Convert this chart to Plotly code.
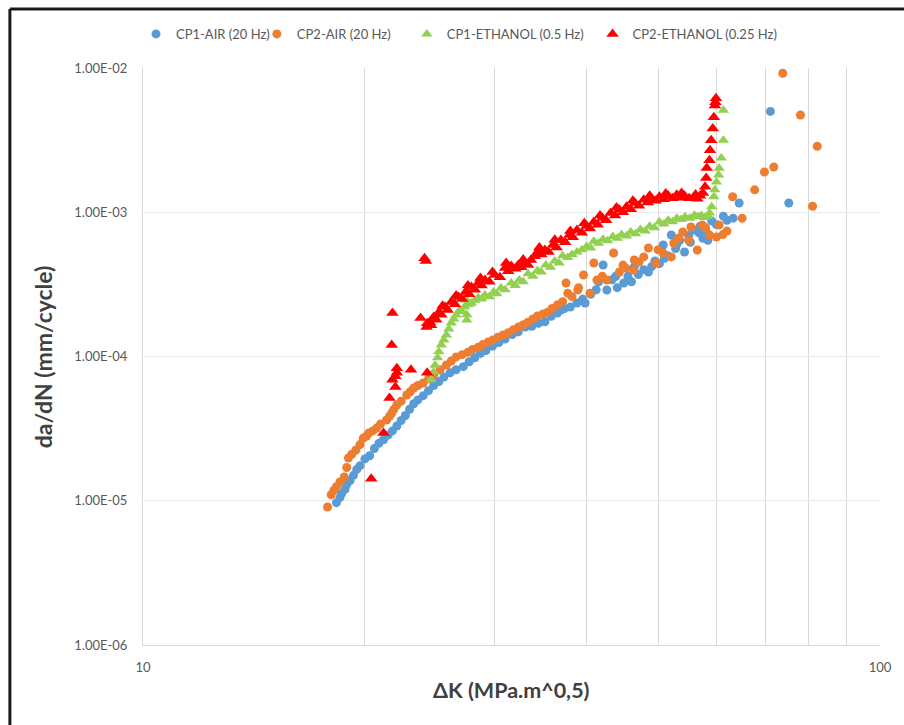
import plotly.graph_objects as go

# ---------------- data ----------------
air1_dk = [18.3, 18.5, 18.6, 18.8, 18.9, 19.1, 19.3, 19.5, 19.7, 20.0,
           20.3, 20.6, 20.9, 21.2, 21.5, 21.8, 22.1, 22.4, 22.7, 23.0,
           23.3, 23.6, 24.0, 24.4, 24.8, 25.2, 25.6, 26.1, 26.6, 27.2,
           27.7, 28.2, 28.7, 29.2, 29.8, 30.4, 31.0, 31.7, 32.3, 33.0,
           33.7, 34.4, 35.1, 35.8, 36.5, 36.9, 37.3, 38.0, 38.8, 39.5,
           39.8, 40.5, 41.2, 42.1, 42.6, 43.3, 44.0, 44.9, 45.5, 46.4,
           47.0, 47.8, 48.5, 49.5, 50.2, 50.8, 51.5, 52.1, 52.8, 53.5,
           54.3, 55.0, 55.9, 56.8, 57.5, 58.4, 59.1, 61.3, 63.2, 64.4,
           71.0, 75.2,
           41.5, 43.8, 46.0, 49.0, 51.0, 53.0, 55.3, 57.0, 58.0, 60.0, 62.0]
air1_dadn = [9.7e-6, 1.05e-5, 1.12e-5, 1.2e-5, 1.3e-5, 1.38e-5, 1.5e-5, 1.65e-5, 1.75e-5, 1.95e-5,
             2.05e-5, 2.3e-5, 2.5e-5, 2.65e-5, 2.85e-5, 3.05e-5, 3.3e-5, 3.6e-5, 3.9e-5, 4.3e-5,
             4.7e-5, 5.0e-5, 5.35e-5, 5.8e-5, 6.3e-5, 6.7e-5, 7.2e-5, 7.7e-5, 8.1e-5, 8.5e-5,
             9.2e-5, 9.8e-5, 1.05e-4, 1.1e-4, 1.18e-4, 1.25e-4, 1.32e-4, 1.42e-4, 1.48e-4, 1.6e-4,
             1.62e-4, 1.7e-4, 1.74e-4, 1.9e-4, 2.0e-4, 2.1e-4, 2.15e-4, 2.2e-4, 2.35e-4, 2.5e-4,
             2.35e-4, 2.7e-4, 2.9e-4, 4.31e-4, 2.89e-4, 3.4e-4, 3.0e-4, 3.23e-4, 3.6e-4, 4.17e-4,
             3.7e-4, 4.0e-4, 3.85e-4, 4.6e-4, 4.4e-4, 5.93e-4, 5.0e-4, 6.96e-4, 5.6e-4, 6.4e-4,
             5.3e-4, 6.9e-4, 7.53e-4, 7.2e-4, 6.6e-4, 6.4e-4, 8.7e-4, 9.4e-4, 9.1e-4, 1.16e-3,
             5.0e-3, 1.16e-3,
             3.3e-4, 3.6e-4, 3.3e-4, 4.2e-4, 4.8e-4, 6.0e-4, 6.2e-4, 8.0e-4, 7.5e-4, 8.2e-4, 8.8e-4]

air2_dk = [17.8, 18.0, 18.15, 18.3, 18.5, 18.75, 18.9, 19.0, 19.2, 19.45,
           19.7, 19.9, 20.1, 20.25, 20.5, 20.75, 21.0, 21.4, 21.6, 21.75,
           21.9, 22.1, 22.4, 22.8, 23.05, 23.3, 23.6, 24.0, 24.4, 24.8,
           25.3, 25.8, 26.2, 26.6, 27.1, 27.6, 28.0, 28.5, 28.9, 29.4,
           29.8, 30.3, 30.8, 31.3, 31.8, 32.3, 32.8, 33.3, 33.8, 34.3,
           34.9, 35.4, 35.9, 36.5, 37.1, 37.5, 37.7, 38.9, 39.6, 40.4,
           40.9, 41.3, 42.6, 43.5, 44.3, 45.2, 46.3, 46.4, 47.1, 48.5,
           49.7, 50.8, 52.1, 52.5, 54.0, 55.4, 56.5, 57.4, 58.7, 60.0,
           60.5, 62.0, 63.1, 65.0, 67.6, 69.7, 71.75, 73.8, 78.0, 81.0,
           82.2,
           38.2, 39.0, 42.0, 44.8, 47.8, 50.0, 53.3, 55.0, 58.0, 61.2]
air2_dadn = [9.05e-6, 1.1e-5, 1.18e-5, 1.25e-5, 1.35e-5, 1.46e-5, 1.7e-5, 1.98e-5, 2.1e-5, 2.25e-5,
             2.45e-5, 2.72e-5, 2.8e-5, 2.95e-5, 3.05e-5, 3.19e-5, 3.4e-5, 3.63e-5, 3.85e-5, 4.06e-5,
             4.3e-5, 4.61e-5, 4.9e-5, 5.41e-5, 5.7e-5, 6.05e-5, 6.3e-5, 6.55e-5, 7.0e-5, 7.45e-5,
             8.1e-5, 8.73e-5, 9.3e-5, 9.93e-5, 1.03e-4, 1.07e-4, 1.12e-4, 1.16e-4, 1.21e-4, 1.26e-4,
             1.3e-4, 1.36e-4, 1.41e-4, 1.46e-4, 1.53e-4, 1.6e-4, 1.66e-4, 1.73e-4, 1.82e-4, 1.91e-4,
             1.97e-4, 2.03e-4, 2.15e-4, 2.28e-4, 2.4e-4, 3.23e-4, 2.75e-4, 2.89e-4, 3.67e-4, 2.75e-4,
             4.45e-4, 3.39e-4, 3.39e-4, 5.22e-4, 3.85e-4, 4.1e-4, 3.98e-4, 4.67e-4, 4.52e-4, 5.65e-4,
             4.45e-4, 5.22e-4, 4.9e-4, 6.12e-4, 7.3e-4, 7.9e-4, 5.47e-4, 8.17e-4, 6.95e-4, 6.73e-4,
             8.17e-4, 7.4e-4, 1.28e-3, 9.1e-4, 1.43e-3, 1.9e-3, 2.06e-3, 9.2e-3, 4.72e-3, 1.1e-3,
             2.87e-3,
             2.6e-4, 3.0e-4, 3.6e-4, 4.3e-4, 4.9e-4, 5.5e-4, 6.6e-4, 6.4e-4, 7.8e-4, 7.0e-4]

eth1_dk = [24.6, 24.8, 24.9, 25.1, 25.2, 25.4, 25.6, 25.8, 26.0, 26.2,
           26.4, 26.6, 26.9, 27.1, 27.3, 27.5, 27.5, 27.5, 27.5, 27.7,
           27.9, 28.2, 28.5, 28.8, 29.1, 29.5, 29.9, 30.2, 30.6, 31.0,
           31.6, 32.0, 32.4, 32.8, 33.3, 33.8, 34.3, 34.7, 35.2, 35.7,
           36.2, 36.7, 37.1, 37.7, 38.2, 38.8, 39.4, 40.0, 40.5, 40.9,
           41.5, 42.1, 42.7, 43.4, 44.0, 44.6, 45.3, 45.9, 46.6, 47.3,
           48.0, 48.7, 49.4, 50.2, 50.9, 51.6, 52.3, 53.0, 53.7, 54.4,
           55.2, 56.0, 56.6, 57.2, 57.8, 58.5, 58.7, 59.1, 59.5, 59.7,
           60.0, 60.4, 60.5, 60.9, 61.3, 61.3]
eth1_dadn = [6.9e-5, 7.8e-5, 8.7e-5, 9.8e-5, 1.08e-4, 1.2e-4, 1.3e-4, 1.41e-4, 1.55e-4, 1.71e-4,
             1.82e-4, 1.94e-4, 2.1e-4, 2.05e-4, 2.2e-4, 2.28e-4, 1.79e-4, 1.95e-4, 2.46e-4, 2.3e-4,
             2.35e-4, 2.45e-4, 2.55e-4, 2.5e-4, 2.67e-4, 2.6e-4, 2.8e-4, 2.72e-4, 2.98e-4, 2.9e-4,
             3.23e-4, 3.1e-4, 3.39e-4, 3.3e-4, 3.75e-4, 3.6e-4, 3.95e-4, 3.85e-4, 4.3e-4, 4.15e-4,
             4.6e-4, 4.45e-4, 5.0e-4, 4.85e-4, 5.1e-4, 5.3e-4, 5.5e-4, 5.8e-4, 5.65e-4, 6.3e-4,
             6.1e-4, 6.5e-4, 6.35e-4, 6.8e-4, 6.6e-4, 7.0e-4, 6.85e-4, 7.3e-4, 7.1e-4, 7.6e-4,
             7.4e-4, 8.0e-4, 7.8e-4, 8.55e-4, 8.3e-4, 8.8e-4, 8.6e-4, 9.1e-4, 8.9e-4, 9.3e-4,
             9.1e-4, 9.55e-4, 9.3e-4, 9.5e-4, 9.2e-4, 9.4e-4, 9.9e-4, 1.09e-3, 1.28e-3, 1.43e-3,
             1.62e-3, 1.81e-3, 2.02e-3, 2.38e-3, 3.16e-3, 5.1e-3]

eth2_dk = [20.4, 21.2, 21.6, 21.8, 22.0, 22.1, 22.1, 22.0, 21.75, 21.8,
           23.1, 24.3, 23.8, 24.1, 24.2,
           24.25, 24.3, 24.5, 24.6, 24.8, 25.0, 25.2, 25.4, 25.7, 25.9,
           26.2, 26.5, 26.8, 27.1, 27.4, 27.7, 27.9, 28.2, 28.5, 28.8,
           29.1, 29.5, 30.0, 30.5, 31.0, 31.3, 31.6, 32.0, 32.3, 32.6,
           33.0, 33.3, 33.6, 34.0, 34.3, 34.7, 35.1, 35.5, 36.0, 36.4,
           36.9, 37.4, 37.9, 38.3, 38.8, 39.4, 40.0, 40.4, 40.9, 41.4,
           42.0, 42.5, 43.1, 43.7, 44.3, 44.8, 45.3, 45.9, 46.5, 47.1,
           47.8, 48.4, 49.0, 49.6, 50.2, 50.9, 51.6, 52.3, 53.0, 53.6,
           54.3, 55.1, 56.0, 56.5, 57.0, 57.5,
           57.9, 58.1, 58.2, 58.7, 58.8, 59.0, 59.3, 59.5, 59.7, 59.9, 59.8,
           25.5, 26.6, 27.6, 28.7, 29.8, 31.1, 32.8, 34.5, 36.2, 38.0,
           39.7, 41.7, 43.9, 46.2, 48.7, 51.2, 53.8, 56.2]
eth2_dadn = [1.42e-5, 2.95e-5, 5.15e-5, 6.9e-5, 6.15e-5, 7.7e-5, 8.3e-5, 7.3e-5, 1.2e-4, 2.0e-4,
             8.1e-5, 7.7e-5, 1.85e-4, 4.8e-4, 4.6e-4,
             1.6e-4, 1.7e-4, 1.73e-4, 1.65e-4, 1.88e-4, 1.8e-4, 2.03e-4, 1.95e-4, 2.2e-4, 2.1e-4,
             2.39e-4, 2.3e-4, 2.58e-4, 2.5e-4, 2.8e-4, 2.7e-4, 3.03e-4, 2.9e-4, 3.23e-4, 3.1e-4,
             3.39e-4, 3.3e-4, 3.67e-4, 3.55e-4, 4.1e-4, 3.9e-4, 4.24e-4, 4.05e-4, 4.31e-4, 4.15e-4,
             4.45e-4, 4.3e-4, 4.67e-4, 4.95e-4, 5.3e-4, 5.1e-4, 5.47e-4, 5.3e-4, 5.93e-4, 5.7e-4,
             6.42e-4, 6.2e-4, 6.96e-4, 6.7e-4, 7.53e-4, 7.2e-4, 8.04e-4, 7.7e-4, 8.55e-4, 8.2e-4,
             9.12e-4, 8.8e-4, 9.89e-4, 9.5e-4, 1.04e-3, 1.0e-3, 1.09e-3, 1.05e-3, 1.16e-3, 1.11e-3,
             1.22e-3, 1.17e-3, 1.24e-3, 1.2e-3, 1.28e-3, 1.23e-3, 1.3e-3, 1.25e-3, 1.32e-3, 1.26e-3,
             1.3e-3, 1.25e-3, 1.28e-3, 1.24e-3, 1.3e-3, 1.36e-3,
             1.5e-3, 1.73e-3, 2.03e-3, 2.29e-3, 2.69e-3, 3.16e-3, 3.8e-3, 4.56e-3, 5.5e-3, 6.16e-3, 5.8e-3,
             2.25e-4, 2.65e-4, 3.1e-4, 3.5e-4, 3.85e-4, 4.45e-4, 4.7e-4, 5.7e-4, 6.45e-4, 7.4e-4,
             8.4e-4, 9.5e-4, 1.08e-3, 1.2e-3, 1.3e-3, 1.35e-3, 1.36e-3, 1.33e-3]

series_names = ["CP1-AIR (20 Hz)", "CP2-AIR (20 Hz)", "CP1-ETHANOL (0.5 Hz)", "CP2-ETHANOL (0.25 Hz)"]

x_tick_vals = [10, 20, 30, 40, 50, 60, 70, 80, 90, 100]
x_tick_text = ["10", "", "", "", "", "", "", "", "", "100"]
y_tick_vals = [1e-6, 1e-5, 1e-4, 1e-3, 1e-2]
y_tick_text = ["1.00E-06", "1.00E-05", "1.00E-04", "1.00E-03", "1.00E-02"]

x_title = "ΔK (MPa.m^0,5)"
y_title = "da/dN (mm/cycle)"

# ---------------- figure ----------------
FONT = "Lato, 'Open Sans', sans-serif"
fig = go.Figure()

styles = [
    dict(symbol="circle", color="#5B9BD5", size=9),
    dict(symbol="circle", color="#ED7D31", size=9),
    dict(symbol="triangle-up", color="#92D050", size=10),
    dict(symbol="triangle-up", color="#FF0000", size=11),
]
legend_ids = ["legend", "legend2", "legend3", "legend4"]
legend_x = [-0.0095, 0.1545, 0.3580, 0.6100]
data = [(air1_dk, air1_dadn), (air2_dk, air2_dadn), (eth1_dk, eth1_dadn), (eth2_dk, eth2_dadn)]
for (xs, ys), name, st, lg in zip(data, series_names, styles, legend_ids):
    fig.add_trace(go.Scatter(
        x=xs, y=ys, mode="markers", name=name, legend=lg,
        marker=dict(symbol=st["symbol"], color=st["color"], size=st["size"], line=dict(width=0)),
    ))

legend_common = dict(orientation="h", xanchor="left", y=1.059, yanchor="middle",
                     font=dict(size=13, color="#595959", family=FONT),
                     bgcolor="rgba(0,0,0,0)", itemwidth=30)

fig.update_layout(
    width=904, height=725,
    margin=dict(l=143, r=19, t=68, b=80),
    paper_bgcolor="white", plot_bgcolor="white",
    font=dict(family=FONT, color="#595959", size=13),
    showlegend=True,
    legend=dict(x=legend_x[0], **legend_common),
    legend2=dict(x=legend_x[1], **legend_common),
    legend3=dict(x=legend_x[2], **legend_common),
    legend4=dict(x=legend_x[3], **legend_common),
    xaxis=dict(type="log", range=[1, 2], tickvals=x_tick_vals, ticktext=x_tick_text,
               showgrid=True, gridcolor="#d9d9d9", gridwidth=1,
               showline=True, linecolor="#d9d9d9", zeroline=False, ticks="",
               ticklabelstandoff=10, tickfont=dict(size=13, color="#595959")),
    yaxis=dict(type="log", range=[-6, -2], tickvals=y_tick_vals, ticktext=y_tick_text,
               showgrid=True, gridcolor="#ebebeb", gridwidth=1,
               showline=True, linecolor="#d9d9d9", zeroline=False, ticks="",
               ticklabelstandoff=12, tickfont=dict(size=13, color="#595959")),
    annotations=[
        dict(text=x_title, xref="paper", yref="paper", x=0.5, y=-0.078,
             showarrow=False, xanchor="center", yanchor="middle",
             font=dict(size=21.5, color="#404040", family=FONT, weight="bold")),
        dict(text=y_title, xref="paper", yref="paper", x=-0.136, y=0.5, textangle=-90,
             showarrow=False, xanchor="center", yanchor="middle",
             font=dict(size=23, color="#404040", family=FONT, weight="bold")),
    ],
    shapes=[
        dict(type="line", xref="paper", yref="paper", x0=-0.1806, x1=-0.1806, y0=-0.3, y1=1.1023,
             line=dict(color="#1a1a1a", width=3)),
        dict(type="line", xref="paper", yref="paper", x0=-0.1806, x1=1.2, y0=1.1023, y1=1.1023,
             line=dict(color="#1a1a1a", width=3)),
    ],
)

fig.write_html(
    "out.html",
    config={"displayModeBar": False},
    post_script="document.body.style.margin='0px';document.body.style.overflow='hidden';",
)
